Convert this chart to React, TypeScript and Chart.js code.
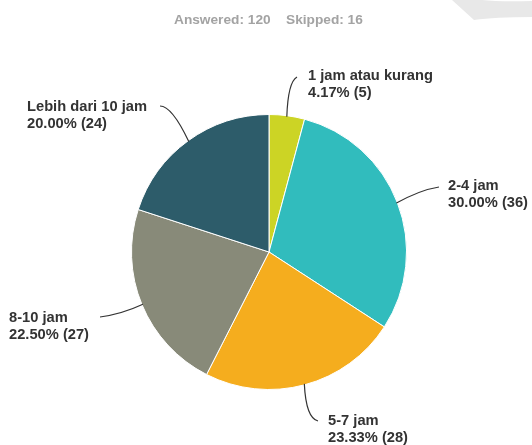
import React, { useEffect, useRef } from "react";
import { Chart, registerables } from "chart.js";

Chart.register(...registerables);

const categories = ["1 jam atau kurang", "2-4 jam", "5-7 jam", "8-10 jam", "Lebih dari 10 jam"];
const counts = [5, 36, 28, 27, 24];
const percentLabels = ["4.17%", "30.00%", "23.33%", "22.50%", "20.00%"];
const colors = ["#ccd425", "#31bcbd", "#f5ad1e", "#888a79", "#2d5c6a"];
const answered = 120;
const skipped = 16;

// label layout: text left x, first line centre y, and a curve control point for the leader
const labelLayout = [
  { x: 308, y: 76, endX: 297, endY: 77, cx: 288, cy: 82 },
  { x: 448, y: 186, endX: 439, endY: 187, cx: 420, cy: 190 },
  { x: 328, y: 421, endX: 318, endY: 421, cx: 306, cy: 418 },
  { x: 9, y: 318, endX: 100, endY: 317, cx: 122, cy: 314 },
  { x: 27, y: 107, endX: 160, endY: 106, cx: 172, cy: 106 },
];

const calloutPlugin = {
  id: "callouts",
  beforeDraw(chart: any) {
    const ctx = chart.ctx;
    ctx.save();
    // watermark swoosh top right
    ctx.fillStyle = "#e8e8e8";
    ctx.beginPath();
    ctx.moveTo(452, 0);
    ctx.lineTo(532, 0);
    ctx.lineTo(532, 17);
    ctx.quadraticCurveTo(495, 17, 474, 20);
    ctx.closePath();
    ctx.fill();
    ctx.fillStyle = "#ffffff";
    ctx.beginPath();
    ctx.moveTo(482, 0);
    ctx.lineTo(532, 0);
    ctx.lineTo(532, 1);
    ctx.quadraticCurveTo(500, 2, 482, 0);
    ctx.closePath();
    ctx.fill();
    // header
    ctx.fillStyle = "#a3a3a3";
    ctx.font = "bold 13.7px 'Liberation Sans', Arial, sans-serif";
    ctx.textBaseline = "middle";
    ctx.textAlign = "left";
    ctx.fillText(`Answered: ${answered}`, 174, 20);
    ctx.fillText(`Skipped: ${skipped}`, 286, 20);
    ctx.restore();
  },
  afterDatasetsDraw(chart: any) {
    const ctx = chart.ctx;
    const meta = chart.getDatasetMeta(0);
    ctx.save();
    meta.data.forEach((arc: any, i: number) => {
      const mid = (arc.startAngle + arc.endAngle) / 2;
      const r = arc.outerRadius - 1;
      const sx = arc.x + Math.cos(mid) * r;
      const sy = arc.y + Math.sin(mid) * r;
      const L = labelLayout[i];
      ctx.strokeStyle = "#333333";
      ctx.lineWidth = 1.2;
      ctx.beginPath();
      ctx.moveTo(sx, sy);
      ctx.quadraticCurveTo(L.cx, L.cy, L.endX, L.endY);
      ctx.stroke();
      ctx.fillStyle = "#333333";
      ctx.font = "bold 14.7px 'Liberation Sans', Arial, sans-serif";
      ctx.textBaseline = "middle";
      ctx.textAlign = "left";
      ctx.fillText(categories[i], L.x, L.y);
      ctx.fillText(`${percentLabels[i]} (${counts[i]})`, L.x, L.y + 17);
    });
    ctx.restore();
  },
};

export default function App() {
  const ref = useRef<HTMLCanvasElement>(null);
  useEffect(() => {
    if (!ref.current) return;
    const chart = new Chart(ref.current, {
      type: "pie",
      data: {
        labels: categories,
        datasets: [
          {
            data: counts,
            backgroundColor: colors,
            borderColor: "#ffffff",
            borderWidth: 1,
          },
        ],
      },
      options: {
        animation: false,
        responsive: false,
        layout: { padding: { top: 114, bottom: 55, left: 131, right: 125 } },
        plugins: {
          legend: { display: false },
          tooltip: { enabled: false },
        },
      },
      plugins: [calloutPlugin],
    });
    return () => chart.destroy();
  }, []);
  return (
    <div style={{ position: "absolute", left: 0, top: 0, width: 532, height: 445, background: "#fff" }}>
      <canvas ref={ref} width={532} height={445} style={{ width: 532, height: 445 }} />
    </div>
  );
}
